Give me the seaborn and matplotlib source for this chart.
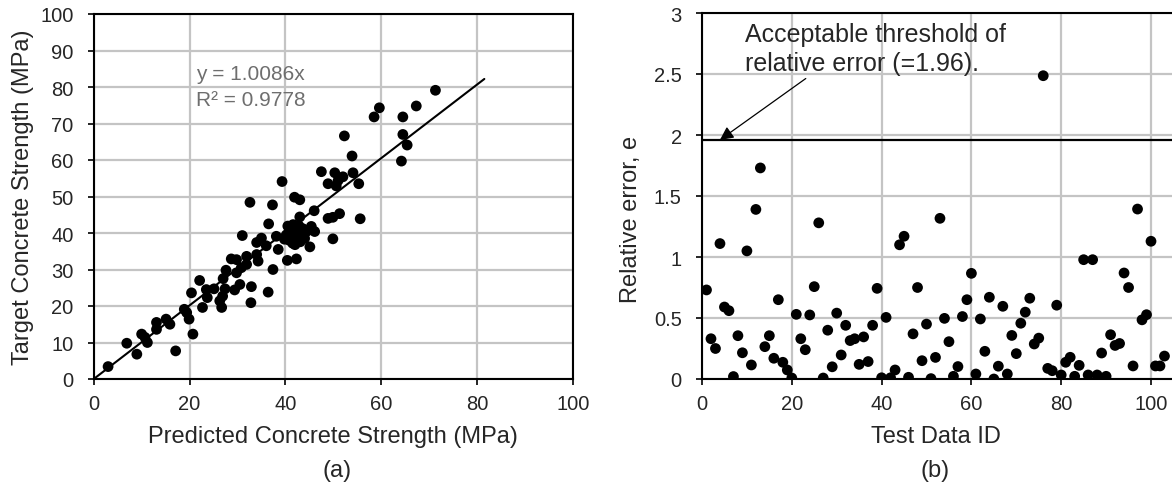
import numpy as np
import pandas as pd
import matplotlib
matplotlib.use("Agg")
import matplotlib.pyplot as plt
import seaborn as sns

# ---- (a) predicted vs target concrete strength (MPa) ----
predicted = [3.0, 6.9, 9.0, 10.0, 10.7, 11.2, 13.1, 13.1, 15.1, 15.9,
             17.1, 18.9, 19.4, 19.9, 20.7, 20.4, 22.7, 22.1, 23.7, 23.5,
             25.1, 26.3, 26.7, 26.9, 27.4, 27.0, 27.6, 29.4, 30.5, 29.8,
             28.7, 29.8, 30.8, 31.9, 31.9, 32.9, 32.8, 34.0, 34.3, 36.4,
             37.4, 31.0, 34.0, 35.0, 36.0, 38.1, 38.5, 36.5, 40.4, 42.3,
             45.1, 49.9, 40.9, 41.6, 43.0, 46.0, 45.4, 44.4, 46.1, 48.9,
             49.9, 51.3, 32.6, 37.3, 43.0, 39.3, 41.9, 47.5, 50.3, 48.9,
             71.3, 67.3, 59.6, 58.5, 64.5, 52.3, 64.5, 65.4, 64.2, 53.9,
             54.1, 52.0, 51.0, 50.6, 55.3, 55.6, 43.0,
             40.2, 40.8, 41.2, 41.5, 41.9, 42.2, 42.6, 43.1, 43.4, 40.5,
             42.0, 43.6, 39.8, 41.0, 42.8, 44.0]
target = [3.4, 9.8, 6.8, 12.3, 11.4, 10.0, 13.6, 15.5, 16.4, 15.0,
          7.7, 19.1, 18.2, 16.4, 12.3, 23.6, 19.6, 27.0, 22.3, 24.5,
          24.7, 21.4, 19.6, 22.7, 24.7, 27.5, 29.8, 24.4, 25.9, 29.1,
          32.9, 32.7, 30.5, 31.4, 33.6, 25.3, 20.9, 34.1, 32.3, 23.8,
          30.0, 39.3, 37.4, 38.6, 36.5, 39.1, 35.5, 42.5, 32.5, 32.9,
          36.2, 38.4, 40.9, 42.3, 44.4, 46.1, 41.8, 40.4, 40.4, 44.0,
          44.3, 45.3, 48.4, 47.7, 49.1, 54.1, 49.8, 56.8, 56.5, 53.5,
          79.1, 74.8, 74.3, 71.8, 71.8, 66.6, 67.0, 64.1, 59.7, 61.1,
          56.5, 55.4, 54.4, 52.9, 53.5, 43.9, 38.2,
          39.5, 38.0, 41.5, 37.2, 39.8, 38.6, 40.6, 37.6, 39.2, 41.9,
          36.8, 41.2, 38.3, 40.3, 42.0, 38.5]

slope = 1.0086
r_squared = 0.9778
trend_end = 81.5

# ---- (b) relative error per test sample ----
rel_error = [0.73, 0.33, 0.25, 1.11, 0.59, 0.56, 0.02, 0.355, 0.215, 1.05,
             0.115, 1.39, 1.73, 0.265, 0.355, 0.17, 0.65, 0.137, 0.074, 0.008,
             0.53, 0.33, 0.24, 0.525, 0.757, 1.28, 0.008, 0.40, 0.10, 0.54,
             0.197, 0.44, 0.315, 0.33, 0.12, 0.345, 0.143, 0.44, 0.743, 0.01,
             0.505, 0.01, 0.074, 1.10, 1.17, 0.014, 0.37, 0.75, 0.15, 0.45,
             0.003, 0.177, 1.317, 0.497, 0.306, 0.022, 0.102, 0.512, 0.65, 0.866,
             0.041, 0.492, 0.227, 0.67, 0.0, 0.105, 0.596, 0.041, 0.357, 0.208,
             0.457, 0.548, 0.662, 0.287, 0.335, 2.486, 0.087, 0.068, 0.605, 0.033,
             0.137, 0.178, 0.022, 0.112, 0.978, 0.033, 0.978, 0.033, 0.213, 0.022,
             0.363, 0.275, 0.291, 0.869, 0.75, 0.107, 1.393, 0.485, 0.527, 1.129,
             0.107, 0.107, 0.188]
test_id = list(range(1, len(rel_error) + 1))
threshold = 1.96

# tick positions
a_xticks = list(range(0, 101, 20))
a_yticks = list(range(0, 101, 10))
b_xticks = list(range(0, 121, 20))
b_yticks = [0, 0.5, 1, 1.5, 2, 2.5, 3]
b_yticklabels = ["0", "0.5", "1", "1.5", "2", "2.5", "3"]

df_a = pd.DataFrame({"pred": predicted, "target": target})
df_b = pd.DataFrame({"id": test_id, "err": rel_error})

sns.set_style("white")
plt.rcParams["font.family"] = ["Liberation Sans", "DejaVu Sans"]

W, H = 1172, 489
fig = plt.figure(figsize=(W / 100, H / 100), dpi=100)

def frac(x0, y0, x1, y1):
    return [x0 / W, 1 - y1 / H, (x1 - x0) / W, (y1 - y0) / H]

ax1 = fig.add_axes(frac(93.7, 15, 573, 380))
ax2 = fig.add_axes(frac(702, 14, 702 + 120 * 4.49, 380))

tick_fs = 14.5
label_fs = 17
dot_size = 60
grid_color = "#c4c4c4"

def style_axes(ax, xt, yt):
    ax.set_xticks(xt)
    ax.set_yticks(yt)
    ax.grid(True, which="major", color=grid_color, linewidth=1.6)
    ax.set_axisbelow(True)
    for sp in ax.spines.values():
        sp.set_visible(True)
        sp.set_color("black")
        sp.set_linewidth(1.5)
    ax.tick_params(axis="both", labelsize=tick_fs, direction="out", length=4.5,
                   width=1.2, color="black", left=True, bottom=True)
    ax.tick_params(axis="x", pad=6.5)
    ax.tick_params(axis="y", pad=10)

# (a)
sns.scatterplot(data=df_a, x="pred", y="target", ax=ax1, color="black",
                s=dot_size, edgecolor="none", zorder=3, legend=False)
xs = np.array([0, trend_end])
ax1.plot(xs, slope * xs, color="black", linewidth=1.5, zorder=2)
style_axes(ax1, a_xticks, a_yticks)
ax1.set_xlim(0, 100)
ax1.set_ylim(0, 100)
ax1.set_xlabel("Predicted Concrete Strength (MPa)", fontsize=label_fs)
ax1.set_ylabel("Target Concrete Strength (MPa)", fontsize=label_fs)
ax1.xaxis.set_label_coords(0.5, -0.126)
ax1.yaxis.set_label_coords(-0.125, 0.5)
ax1.text(21.3, 86.2, f"y = {slope}x\nR² = {r_squared}", color="#6e6e6e",
         fontsize=15, va="top", ha="left", linespacing=1.42)
fig.text(337 / W, 1 - 471 / H, "(a)", ha="center", va="center", fontsize=label_fs)

# (b)
sns.scatterplot(data=df_b, x="id", y="err", ax=ax2, color="black",
                s=dot_size, edgecolor="none", zorder=3, legend=False)
ax2.axhline(threshold, color="black", linewidth=1.6, zorder=2)
style_axes(ax2, b_xticks, b_yticks)
ax2.set_yticklabels(b_yticklabels)
ax2.set_xlim(0, 120)
ax2.set_ylim(0, 3)
ax2.set_xlabel("Test Data ID", fontsize=label_fs)
ax2.set_ylabel("Relative error, e", fontsize=label_fs)
ax2.xaxis.set_label_coords(0.434, -0.126)
ax2.yaxis.set_label_coords(-0.111, 0.44)
ax2.annotate("Acceptable threshold of\nrelative error (=1.96).",
             xy=(4.0, threshold), xytext=(9.6, 2.93),
             fontsize=18, ha="left", va="top", linespacing=1.3,
             arrowprops=dict(arrowstyle="-|>", color="black", lw=0.9,
                             mutation_scale=20, shrinkA=0, shrinkB=0,
                             relpos=(0.25, 0.0)))
fig.text(935 / W, 1 - 471 / H, "(b)", ha="center", va="center", fontsize=label_fs)

fig.savefig("out.png", dpi=100)
